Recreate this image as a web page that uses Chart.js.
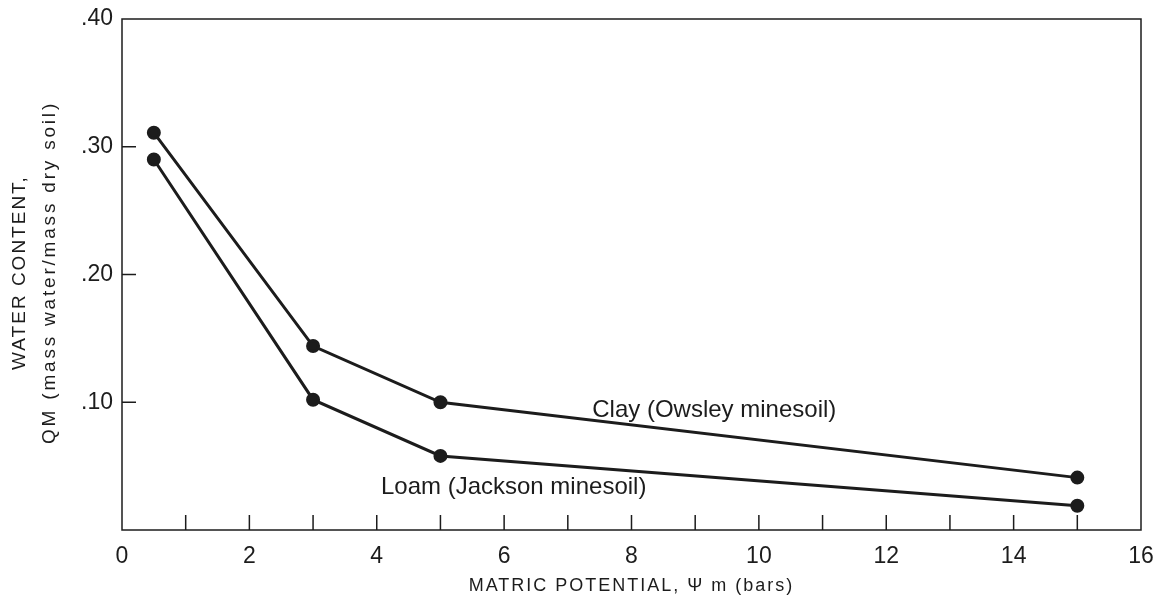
<!DOCTYPE html>
<html>
<head>
<meta charset="utf-8">
<script src="https://cdn.jsdelivr.net/npm/chart.js@4/dist/chart.umd.min.js"></script>
<style>
  html, body { margin: 0; padding: 0; background: #fff; }
  #wrap { width: 1153px; height: 603px; }
</style>
</head>
<body>
<div id="wrap"><canvas id="soilChart"></canvas></div>
<script>
// matric potential (bars)
const potential = [0.5, 3, 5, 15];
const clayWater = [0.311, 0.144, 0.100, 0.041];
const loamWater = [0.290, 0.102, 0.058, 0.019];
const xTickValues = [0, 2, 4, 6, 8, 10, 12, 14, 16];
const yTickLabels = ["", ".10", ".20", ".30", ".40"];
const xTitle = "MATRIC POTENTIAL, \u03A8 m (bars)";
const yTitle = ["WATER CONTENT,", "QM (mass water/mass dry soil)"];

const ink = "#1c1c1c";
const fontName = "'Liberation Sans', Arial, sans-serif";

function toPoints(xs, ys) {
    return xs.map((x, i) => ({ x: x, y: ys[i] }));
}

// frame, inward ticks, axis titles and curve labels
const framePlugin = {
    id: "frame",
    afterDraw(chart) {
        const ctx = chart.ctx;
        const a = chart.chartArea;
        const xs = chart.scales.x;
        const ys = chart.scales.y;
        ctx.save();
        ctx.strokeStyle = ink;
        ctx.lineWidth = 1.5;
        ctx.strokeRect(a.left, a.top, a.right - a.left, a.bottom - a.top);

        ctx.beginPath();
        for (let v = 1; v < 16; v++) {
            const px = xs.getPixelForValue(v);
            ctx.moveTo(px, a.bottom);
            ctx.lineTo(px, a.bottom - 15);
        }
        for (let v = 1; v < 4; v++) {
            const py = ys.getPixelForValue(v / 10);
            ctx.moveTo(a.left, py);
            ctx.lineTo(a.left + 14, py);
        }
        ctx.stroke();

        ctx.fillStyle = ink;
        ctx.textAlign = "center";
        ctx.textBaseline = "middle";
        ctx.font = "24px " + fontName;
        ctx.fillText("Clay (Owsley minesoil)", xs.getPixelForValue(9.3), ys.getPixelForValue(0.094));
        ctx.fillText("Loam (Jackson minesoil)", xs.getPixelForValue(6.15), ys.getPixelForValue(0.033));

        ctx.letterSpacing = "2px";
        ctx.font = "18px " + fontName;
        ctx.fillText(xTitle, (a.left + a.right) / 2, 586);

        ctx.font = "19px " + fontName;
        const midY = (a.top + a.bottom) / 2 - 2;
        ctx.translate(20, midY);
        ctx.rotate(-Math.PI / 2);
        ctx.fillText(yTitle[0], 0, 0);
        ctx.letterSpacing = "2.8px";
        ctx.fillText(yTitle[1], 0, 30);
        ctx.restore();
    }
};

new Chart(document.getElementById("soilChart"), {
    type: "line",
    data: {
        datasets: [
            {
                label: "Clay (Owsley minesoil)",
                data: toPoints(potential, clayWater),
                borderColor: ink,
                backgroundColor: ink,
                borderWidth: 3,
                pointRadius: 5.5,
                tension: 0
            },
            {
                label: "Loam (Jackson minesoil)",
                data: toPoints(potential, loamWater),
                borderColor: ink,
                backgroundColor: ink,
                borderWidth: 3,
                pointRadius: 5.5,
                tension: 0
            }
        ]
    },
    options: {
        responsive: true,
        maintainAspectRatio: false,
        animation: false,
        layout: { padding: { left: 0, top: 19, right: 12, bottom: 0 } },
        plugins: {
            legend: { display: false },
            tooltip: { enabled: false }
        },
        scales: {
            x: {
                type: "linear",
                min: 0,
                max: 16,
                afterBuildTicks: (scale) => {
                    scale.ticks = xTickValues.map((v) => ({ value: v }));
                },
                afterFit: (scale) => {
                    scale.height = 73;
                    scale.paddingLeft = 0;
                    scale.paddingRight = 0;
                },
                grid: { display: false, drawTicks: false },
                border: { display: false },
                ticks: {
                    color: ink,
                    padding: 13,
                    font: { family: fontName, size: 23 }
                }
            },
            y: {
                min: 0,
                max: 0.4,
                afterBuildTicks: (scale) => {
                    scale.ticks = yTickLabels.map((t, i) => ({ value: i / 10 }));
                },
                afterFit: (scale) => {
                    scale.width = 122;
                    scale.paddingTop = 0;
                    scale.paddingBottom = 0;
                },
                grid: { display: false, drawTicks: false },
                border: { display: false },
                ticks: {
                    color: ink,
                    padding: 9,
                    font: { family: fontName, size: 23 },
                    callback: (value, index) => yTickLabels[index]
                }
            }
        }
    },
    plugins: [framePlugin]
});
</script>
</body>
</html>
